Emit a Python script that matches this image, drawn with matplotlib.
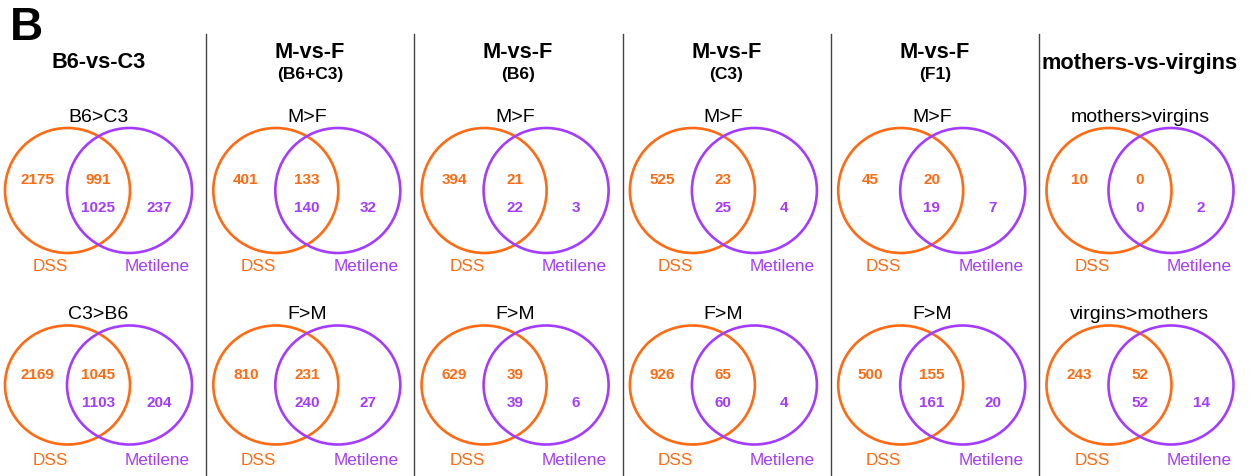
import matplotlib
matplotlib.use("Agg")
import matplotlib.pyplot as plt
from matplotlib.patches import Ellipse

plt.rcParams['font.family'] = ['Liberation Sans', 'DejaVu Sans']

ORANGE = '#FF6A12'
PURPLE = '#A43CFF'

# one column per comparison
comparisons = ["B6-vs-C3", "M-vs-F", "M-vs-F", "M-vs-F", "M-vs-F", "mothers-vs-virgins"]
strains = ["", "(B6+C3)", "(B6)", "(C3)", "(F1)", ""]
up_labels = ["B6>C3", "M>F", "M>F", "M>F", "M>F", "mothers>virgins"]
down_labels = ["C3>B6", "F>M", "F>M", "F>M", "F>M", "virgins>mothers"]

# DMR counts: DSS only, shared (DSS count), shared (Metilene count), Metilene only
up_dss_only = [2175, 401, 394, 525, 45, 10]
up_shared_dss = [991, 133, 21, 23, 20, 0]
up_shared_met = [1025, 140, 22, 25, 19, 0]
up_met_only = [237, 32, 3, 4, 7, 2]

down_dss_only = [2169, 810, 629, 926, 500, 243]
down_shared_dss = [1045, 231, 39, 65, 155, 52]
down_shared_met = [1103, 240, 39, 60, 161, 52]
down_met_only = [204, 27, 6, 4, 20, 14]


def venn(ax, cx, cy, h, label, dss_only, shared_dss, shared_met, met_only):
    ax.add_patch(Ellipse((cx - 31, cy), 125, h, fill=False, ec=ORANGE, lw=1.9))
    ax.add_patch(Ellipse((cx + 31, cy), 125, h, fill=False, ec=PURPLE, lw=1.9))
    ax.text(cx, cy - h / 2 - 12, label, ha='center', va='center', fontsize=14)
    num = dict(ha='center', va='center', fontsize=11, fontweight='bold')
    ax.text(cx - 61, cy - 11, str(dss_only), color=ORANGE, **num)
    ax.text(cx, cy - 11, str(shared_dss), color=ORANGE, **num)
    ax.text(cx, cy + 17, str(shared_met), color=PURPLE, **num)
    ax.text(cx + 61, cy + 17, str(met_only), color=PURPLE, **num)
    ax.text(cx - 48, cy + 75, "DSS", color=ORANGE, ha='center', va='center', fontsize=12.3)
    ax.text(cx + 59, cy + 75, "Metilene", color=PURPLE, ha='center', va='center', fontsize=12.3)


fig = plt.figure(figsize=(12.6, 4.77), dpi=100)
ax = fig.add_axes([0, 0, 1, 1])
ax.set_xlim(0, 1260)
ax.set_ylim(477, 0)
ax.axis('off')

ax.text(26, 28, "B", fontsize=33, fontweight='bold', ha='center', va='center')

step = 208.3
for i in range(len(comparisons)):
    cx = 98.5 + step * i
    if i > 0:
        ax.plot([206 + step * (i - 1)] * 2, [35, 477], color='#444444', lw=1)
    if strains[i]:
        ax.text(cx + 3, 52, comparisons[i], ha='center', va='center',
                fontsize=15.7, fontweight='bold')
        ax.text(cx + 3, 74, strains[i], ha='center', va='center',
                fontsize=12.5, fontweight='bold')
    else:
        ax.text(cx, 63, comparisons[i], ha='center', va='center',
                fontsize=15.7, fontweight='bold')
    venn(ax, cx, 191.5, 125, up_labels[i], up_dss_only[i], up_shared_dss[i],
         up_shared_met[i], up_met_only[i])
    venn(ax, cx, 386, 119, down_labels[i], down_dss_only[i], down_shared_dss[i],
         down_shared_met[i], down_met_only[i])

fig.savefig("out.png", dpi=100)
